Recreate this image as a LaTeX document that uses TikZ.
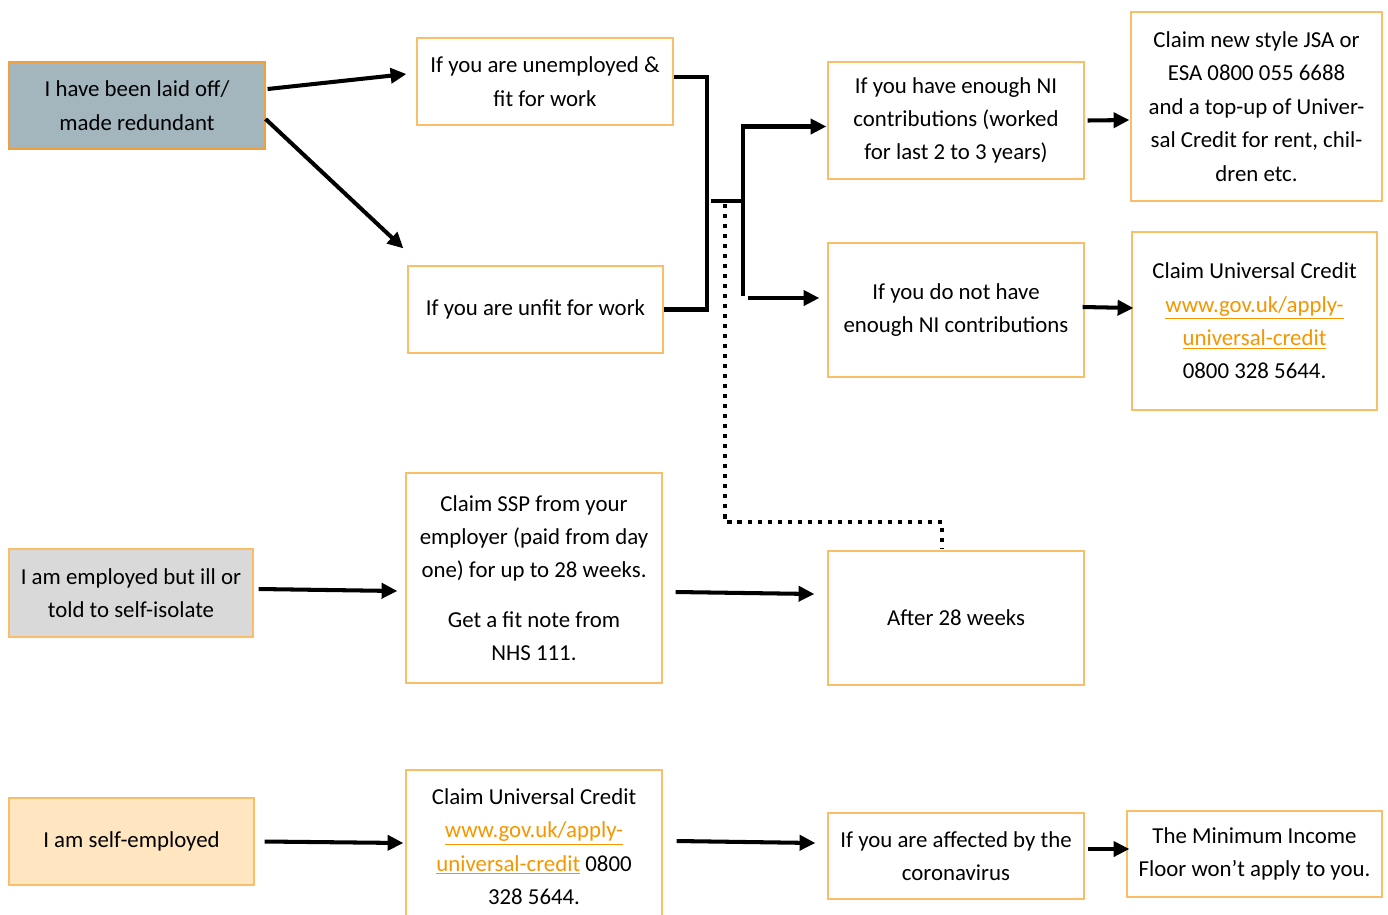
\documentclass[tikz,border=0pt]{standalone}
\usepackage{fontspec}
\setmainfont{Carlito}
\usepackage{tikz}
\usetikzlibrary{arrows.meta}

\definecolor{boxorange}{RGB}{250,190,105}
\definecolor{darkorange}{RGB}{240,160,60}
\definecolor{linkorange}{RGB}{245,150,0}
\definecolor{slate}{RGB}{163,181,189}
\definecolor{lightgrey}{RGB}{217,217,217}
\definecolor{peach}{RGB}{255,229,192}

\newcommand{\weblink}[1]{\textcolor{linkorange}{\underline{#1}}}

\tikzset{
  box/.style={draw=boxorange, line width=0.7pt, align=center, inner sep=0pt,
    font=\fontsize{13}{19}\selectfont},
  flow/.style={line width=2.3pt, -{Triangle[length=9pt,width=8.5pt]}},
  bar/.style={line width=2.3pt},
  dots/.style={line width=2.3pt, dash pattern=on 2.3pt off 3.4pt},
}

\begin{document}
\begin{tikzpicture}[x=0.02cm,y=-0.02cm]
    \useasboundingbox (0,0) rectangle (1388,914);
    \clip (0,0) rectangle (1388,914);

    % first column
    \node[box,fill=slate,draw=darkorange,minimum width=5.12cm,minimum height=1.74cm] (laid) at (137,105.5) {I have been laid off/\\made redundant};
    \node[box,fill=lightgrey,minimum width=4.88cm,minimum height=1.76cm] (ill) at (131,593) {I am employed but ill or\\told to self-isolate};
    \node[box,fill=peach,minimum width=4.9cm,minimum height=1.74cm] (selfemp) at (131.5,841.5) {I am self-employed};

    % second column
    \node[box,minimum width=5.12cm,minimum height=1.74cm] (unemp) at (545,81.5) {If you are unemployed \&\\fit for work};
    \node[box,minimum width=5.1cm,minimum height=1.74cm] (unfit) at (535.5,309.5) {If you are unfit for work};
    \node[box,minimum width=5.12cm,minimum height=4.2cm] (ssp) at (534,578) {Claim SSP from your\\employer (paid from day\\one) for up to 28 weeks.\\[9pt]Get a fit note from\\NHS 111.};
    \node[box,minimum width=5.12cm,minimum height=3.06cm] (ucb) at (534,846.5) {Claim Universal Credit\\\weblink{www.gov.uk/apply-}\\\weblink{universal-credit} 0800\\328 5644.};

    % third column
    \node[box,minimum width=5.12cm,minimum height=2.34cm] (enough) at (956,120.5) {If you have enough NI\\contributions (worked\\for last 2 to 3 years)};
    \node[box,minimum width=5.12cm,minimum height=2.68cm] (notenough) at (956,310) {If you do not have\\enough NI contributions};
    \node[box,minimum width=5.12cm,minimum height=2.68cm] (after) at (956,618) {After 28 weeks};
    \node[box,minimum width=5.12cm,minimum height=1.72cm] (corona) at (956,856) {If you are affected by the\\coronavirus};

    % fourth column
    \node[box,minimum width=5.02cm,minimum height=3.78cm] (jsa) at (1256.5,106.5) {Claim new style JSA or\\ESA 0800 055 6688\\and a top-up of Univer-\\sal Credit for rent, chil-\\dren etc.};
    \node[box,minimum width=4.9cm,minimum height=3.56cm] (ucredit) at (1254.5,321) {Claim Universal Credit\\\weblink{www.gov.uk/apply-}\\\weblink{universal-credit}\\0800 328 5644.};
    \node[box,minimum width=5.1cm,minimum height=1.72cm] (mif) at (1254.5,854) {The Minimum Income\\Floor won’t apply to you.};

    \coordinate (fork) at (743,201);

    % arrows
    \draw[flow] ([shift={(2,-16.5)}]laid.east) -- ([shift={(-10,-7.5)}]unemp.west);
    \draw[flow] ([shift={(0,13.5)}]laid.east) -- ([shift={(-4,-17)}]unfit.north west);
    \draw[bar] ([shift={(0,-4.5)}]unemp.east) -- ++(33,0) |- (unfit.east);
    \draw[bar] ([shift={(-32,0)}]fork) -- (fork);
    \draw[flow] ([shift={(0,95)}]fork) |- ([shift={(-1,6)}]enough.west);
    \draw[flow] ([shift={(5,97)}]fork) -- ([shift={(-8,-12)}]notenough.west);
    \draw[flow] ([shift={(3,0)}]enough.east) -- ([shift={(-1,13.5)}]jsa.west);
    \draw[flow] ([shift={(-2,-3)}]notenough.east) -- ([shift={(2,-13)}]ucredit.west);
    \draw[dots] ([shift={(-18,3)}]fork) -- ++(0,318) -| ([shift={(-14,-2)}]after.north);

    \draw[flow] ([shift={(5,-4)}]ill.east) -- ([shift={(-8,13)}]ssp.west);
    \draw[flow] ([shift={(13,14)}]ssp.east) -- ([shift={(-13,-24)}]after.west);

    \draw[flow] ([shift={(10,0)}]selfemp.east) -- ([shift={(-2,-3.5)}]ucb.west);
    \draw[flow] ([shift={(14,-5.5)}]ucb.east) -- ([shift={(-12,-13)}]corona.west);
    \draw[flow] ([shift={(3,-7)}]corona.east) -- ([shift={(3,-5)}]mif.west);
\end{tikzpicture}
\end{document}
